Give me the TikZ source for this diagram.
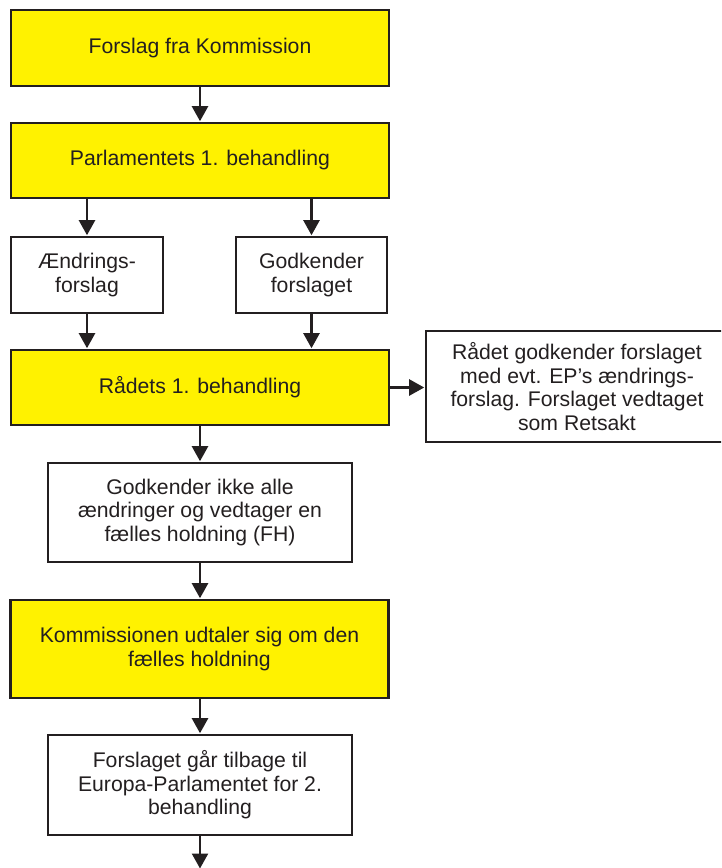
\documentclass[tikz,border=0pt]{standalone}
\usepackage{fontspec}
\setmainfont{Liberation Sans}
\usetikzlibrary{arrows.meta}
\definecolor{ink}{HTML}{231F20}
\definecolor{yel}{HTML}{FFF200}
\tikzset{
  box/.style={draw=ink, line width=2.6pt, rectangle, align=center, text=ink,
    font=\fontsize{21.2}{23.5}\selectfont, inner sep=0pt},
  ybox/.style={box, fill=yel},
  wbox/.style={box, fill=white},
  arr/.style={draw=ink, line width=2.4pt, -{Triangle[length=15pt,width=16pt]}, shorten >=0.5pt}
}
\begin{document}
\begin{tikzpicture}[x=1pt,y=-1pt]
\useasboundingbox (0,0) rectangle (721,868);
\clip (0,0) rectangle (721,868);
\fill[white] (0,0) rectangle (721,868);
\node[ybox, minimum width=378pt, minimum height=76pt] (b1) at (200,48) {Forslag fra Kommission};
\node[ybox, minimum width=378pt, minimum height=75pt] (b2) at (200,160.5) {Parlamentets 1. behandling};
\node[wbox, minimum width=152pt, minimum height=76pt] (a1) at (87,275) {Ændrings-\\forslag};
\node[wbox, minimum width=151pt, minimum height=76pt] (a2) at (311.5,275) {Godkender\\forslaget};
\node[ybox, minimum width=378pt, minimum height=75pt] (b3) at (200,387.5) {Rådets 1. behandling};
\node[wbox, minimum width=302pt, minimum height=111pt] (r) at (577,386.5) {Rådet godkender forslaget\\med evt. EP’s ændrings-\\forslag. Forslaget vedtaget\\som Retsakt};
\node[wbox, minimum width=304pt, minimum height=99pt] (b4) at (200,512.5) {Godkender ikke alle\\ændringer og vedtager en\\fælles holdning (FH)};
\node[ybox, minimum width=378pt, minimum height=98pt] (b5) at (199.5,649) {Kommissionen udtaler sig om den\\fælles holdning};
\node[wbox, minimum width=304pt, minimum height=100pt] (b6) at (200,785) {Forslaget går tilbage til\\Europa-Parlamentet for 2.\\behandling};
\coordinate (end) at (200,869);
\draw[arr] (b1.south) -- (b2.north);
\draw[arr] (b2.south -| a1.north) -- (a1.north);
\draw[arr] (b2.south -| a2.north) -- (a2.north);
\draw[arr] (a1.south) -- (a1.south |- b3.north);
\draw[arr] (a2.south) -- (a2.south |- b3.north);
\draw[arr] (b3.east) -- (r.west |- b3.east);
\draw[arr] (b3.south) -- (b4.north);
\draw[arr] (b4.south) -- (b5.north -| b4.south);
\draw[arr] (b5.south -| b6.north) -- (b6.north);
\draw[arr] (b6.south) -- (end);
\end{tikzpicture}
\end{document}
